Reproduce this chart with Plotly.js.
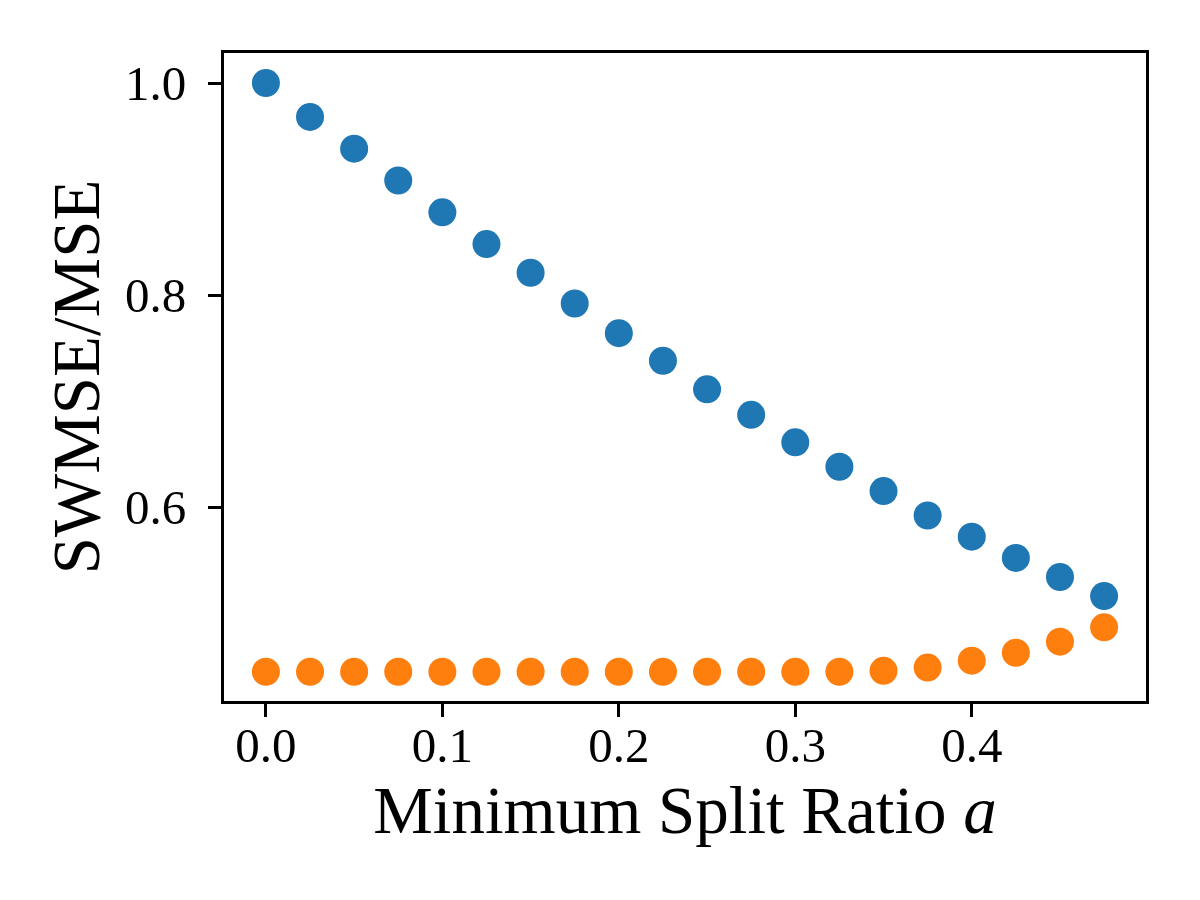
<!DOCTYPE html>
<html>
<head>
<meta charset="utf-8">
<script src="https://cdn.plot.ly/plotly-3.0.1.min.js"></script>
<style>
  html, body { margin: 0; padding: 0; background: #fff; }
  #chart { width: 1200px; height: 900px; }
</style>
</head>
<body>
<div id="chart"></div>
<script>
const splitRatio = [0, 0.025, 0.05, 0.075, 0.1, 0.125, 0.15, 0.175, 0.2, 0.225,
                    0.25, 0.275, 0.3, 0.325, 0.35, 0.375, 0.4, 0.425, 0.45, 0.475];
const blueVals = [1.000, 0.968, 0.938, 0.908, 0.878, 0.848, 0.821, 0.792, 0.764, 0.738,
                  0.711, 0.687, 0.661, 0.638, 0.615, 0.592, 0.572, 0.552, 0.534, 0.516];
const orangeVals = [0.4446, 0.4446, 0.4446, 0.4446, 0.4446, 0.4446, 0.4446, 0.4446, 0.4446, 0.4446,
                    0.4446, 0.4446, 0.4446, 0.4446, 0.4455, 0.4485, 0.4550, 0.4625, 0.4730, 0.4865];
const xTicks = [0, 0.1, 0.2, 0.3, 0.4];
const yTicks = [0.6, 0.8, 1.0];

const fontFamily = '"Liberation Serif", "DejaVu Serif", serif';

const traces = [
    { type: 'scatter', mode: 'markers', x: splitRatio, y: blueVals,
      marker: { color: '#1f77b4', size: 28 } },
    { type: 'scatter', mode: 'markers', x: splitRatio, y: orangeVals,
      marker: { color: '#ff7f0e', size: 28 } }
];

const axisCommon = {
    showline: true, mirror: true, linecolor: '#000', linewidth: 3,
    ticks: 'outside', ticklen: 13, tickwidth: 3, tickcolor: '#000',
    showgrid: false, zeroline: false,
    tickfont: { family: fontFamily, size: 49, color: '#000' }
};

const layout = {
    width: 1200, height: 900,
    margin: { l: 224, r: 54, t: 53, b: 199 },
    paper_bgcolor: '#fff', plot_bgcolor: '#fff',
    showlegend: false,
    xaxis: Object.assign({}, axisCommon, {
        range: [-0.02375, 0.49875],
        tickvals: xTicks, ticktext: xTicks.map(v => v.toFixed(1)),
        ticklabelstandoff: -14,
        title: { text: 'Minimum Split Ratio <i>a</i>', standoff: 12,
                 font: { family: fontFamily, size: 67, color: '#000' } }
    }),
    yaxis: Object.assign({}, axisCommon, {
        range: [0.4170, 1.0283],
        tickvals: yTicks, ticktext: yTicks.map(v => v.toFixed(1)),
        ticklabelstandoff: 12,
        title: { text: 'SWMSE/MSE', standoff: 4,
                 font: { family: fontFamily, size: 67, color: '#000' } }
    })
};

Plotly.newPlot('chart', traces, layout, { staticPlot: true });
</script>
</body>
</html>
